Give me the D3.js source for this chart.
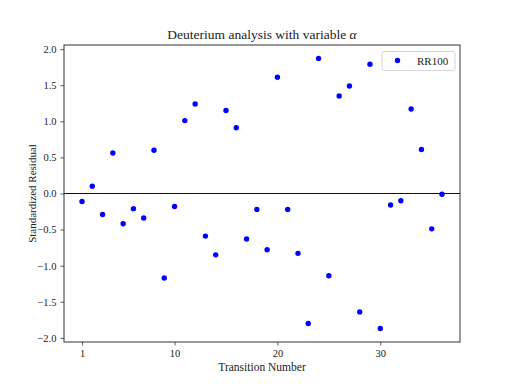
<!DOCTYPE html>
<html>
<head>
<meta charset="utf-8">
<script src="https://cdn.jsdelivr.net/npm/d3@7"></script>
<style>
    body { margin: 0; background: #fff; }
    svg text { font-family: "Liberation Serif", "DejaVu Serif", serif; fill: #222; }
</style>
</head>
<body>
<svg id="chart" width="512" height="384"></svg>
<script>
// transition numbers and their standardized residuals
const transitions = d3.range(1, 37);
const residuals = [
    -0.11, 0.10, -0.29, 0.56, -0.42, -0.21, -0.34, 0.60, -1.17, -0.18,
    1.01, 1.24, -0.59, -0.85, 1.15, 0.91, -0.63, -0.22, -0.78, 1.61,
    -0.22, -0.83, -1.80, 1.87, -1.14, 1.35, 1.49, -1.64, 1.79, -1.87,
    -0.16, -0.10, 1.17, 0.61, -0.49, -0.01
];
const xTicks = [1, 10, 20, 30];
const yTicks = [-2, -1.5, -1, -0.5, 0, 0.5, 1, 1.5, 2];
const seriesName = 'RR100';

const margin = { left: 64, right: 52, top: 45, bottom: 42 };
const width = 512, height = 384;
const serif = '"Liberation Serif", "DejaVu Serif", serif';

const svg = d3.select('#chart');

// matplotlib-ish 5% padding on each side
const xPad = (d3.max(transitions) - d3.min(transitions)) * 0.05;
const yPad = (d3.max(residuals) - d3.min(residuals)) * 0.05;

const x = d3.scaleLinear()
    .domain([d3.min(transitions) - xPad, d3.max(transitions) + xPad])
    .range([margin.left, width - margin.right]);

const y = d3.scaleLinear()
    .domain([d3.min(residuals) - yPad, d3.max(residuals) + yPad])
    .range([height - margin.bottom, margin.top]);

// axes
const xAxis = svg.append('g')
    .attr('transform', `translate(0,${height - margin.bottom})`)
    .call(d3.axisBottom(x).tickValues(xTicks).tickSize(3.5).tickPadding(4));

const yAxis = svg.append('g')
    .attr('transform', `translate(${margin.left},0)`)
    .call(d3.axisLeft(y).tickValues(yTicks).tickFormat(d3.format('.1f')).tickSize(3.5).tickPadding(4));

[xAxis, yAxis].forEach(a => {
    a.attr('font-family', serif).attr('font-size', 10.5);
    a.select('.domain').remove();
    a.selectAll('.tick line').attr('stroke', '#333').attr('stroke-width', 0.8);
    a.selectAll('.tick text').attr('fill', '#222');
});

// zero reference line
svg.append('line')
    .attr('x1', margin.left).attr('x2', width - margin.right)
    .attr('y1', y(0)).attr('y2', y(0))
    .attr('stroke', '#111')
    .attr('stroke-width', 1.2);

// frame
svg.append('rect')
    .attr('x', margin.left).attr('y', margin.top)
    .attr('width', width - margin.left - margin.right)
    .attr('height', height - margin.top - margin.bottom)
    .attr('fill', 'none')
    .attr('stroke', '#333')
    .attr('stroke-width', 1);

// points
svg.append('g')
    .selectAll('circle')
    .data(transitions)
    .enter().append('circle')
    .attr('cx', d => x(d))
    .attr('cy', (d, i) => y(residuals[i]))
    .attr('r', 2.7)
    .attr('fill', '#0000ff');

// legend
const legend = svg.append('g')
    .attr('transform', `translate(${width - margin.right - 78},${margin.top + 6.5})`);
legend.append('rect')
    .attr('width', 73).attr('height', 19).attr('rx', 2)
    .attr('fill', '#fff').attr('fill-opacity', 0.8)
    .attr('stroke', '#ccc').attr('stroke-width', 0.8);
legend.append('circle')
    .attr('cx', 15.5).attr('cy', 9).attr('r', 2.7)
    .attr('fill', '#0000ff');
legend.append('text')
    .attr('x', 35).attr('y', 13)
    .style('font-size', '11px')
    .text(seriesName);

// title
const title = svg.append('text')
    .attr('x', (margin.left + width - margin.right) / 2)
    .attr('y', 39)
    .attr('text-anchor', 'middle')
    .style('font-size', '13.5px')
    .text('Deuterium analysis with variable ');
title.append('tspan').style('font-style', 'italic').text('α');

// axis labels
svg.append('text')
    .attr('x', (margin.left + width - margin.right) / 2)
    .attr('y', 371)
    .attr('text-anchor', 'middle')
    .style('font-size', '11.5px')
    .text('Transition Number');

svg.append('text')
    .attr('transform', `translate(36,${(margin.top + height - margin.bottom) / 2}) rotate(-90)`)
    .attr('text-anchor', 'middle')
    .style('font-size', '11px')
    .text('Standardized Residual');
</script>
</body>
</html>
